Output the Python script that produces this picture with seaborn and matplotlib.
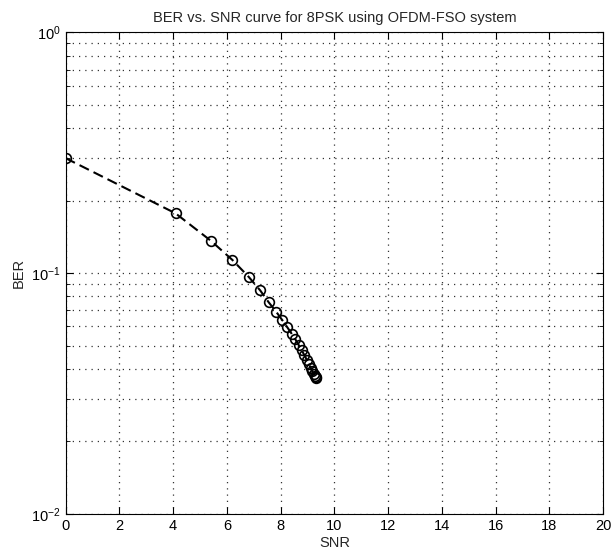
import numpy as np
import pandas as pd
import matplotlib
matplotlib.use("Agg")
import matplotlib.pyplot as plt
import seaborn as sns

# values
snr = [0.00, 4.09, 5.41, 6.20, 6.82, 7.24, 7.56, 7.83, 8.06, 8.25, 8.41, 8.55,
       8.67, 8.78, 8.88, 8.97, 9.05, 9.12, 9.18, 9.23, 9.27, 9.30, 9.32]
ber = [0.300, 0.177, 0.136, 0.1135, 0.0962, 0.0847, 0.0755, 0.0692, 0.0638,
       0.0595, 0.0560, 0.0530, 0.0503, 0.0479, 0.0457, 0.0437, 0.0419, 0.0404,
       0.0391, 0.0381, 0.0374, 0.0369, 0.0366]
x_ticks = [0, 2, 4, 6, 8, 10, 12, 14, 16, 18, 20]

df = pd.DataFrame({"SNR": snr, "BER": ber})

sns.set_style("ticks")
plt.rcParams["font.family"] = ["Liberation Sans", "DejaVu Sans"]
plt.rcParams["mathtext.fontset"] = "custom"
plt.rcParams["mathtext.rm"] = "Liberation Sans"
plt.rcParams["mathtext.it"] = "Liberation Sans"
plt.rcParams["xtick.direction"] = "in"
plt.rcParams["ytick.direction"] = "in"

fig = plt.figure(figsize=(6.13, 5.55), dpi=100)
ax = fig.add_axes([0.107, 0.074, 0.877, 0.868])

sns.lineplot(
    data=df, x="SNR", y="BER", sort=False, estimator=None, ax=ax,
    color="black", linewidth=1.5, linestyle=(0, (5, 2.5)),
    marker="o", markersize=7, markerfacecolor="none",
    markeredgecolor="black", markeredgewidth=1.2,
)

ax.set_yscale("log")
ax.set_xlim(0, 20)
ax.set_ylim(1e-2, 1e0)
ax.set_xticks(x_ticks)
ax.set_xticklabels([str(t) for t in x_ticks])

grid_kw = dict(linestyle=(0, (1, 4)), color="#333333", linewidth=0.9)
ax.grid(True, which="major", axis="both", **grid_kw)
ax.grid(True, which="minor", axis="y", **grid_kw)

ax.tick_params(which="both", top=True, right=True, labelsize=10.5, colors="black")
ax.tick_params(which="major", length=5, width=0.8)
ax.tick_params(which="minor", length=3, width=0.6)
for s in ax.spines.values():
    s.set_color("black")
    s.set_linewidth(0.8)

ax.set_xlabel("SNR", fontsize=10.5, labelpad=2)
ax.set_ylabel("BER", fontsize=10.5, labelpad=4)
ax.set_title("BER vs. SNR curve for 8PSK using OFDM-FSO system", fontsize=10.5, pad=7)

fig.savefig("out.png", dpi=100)
